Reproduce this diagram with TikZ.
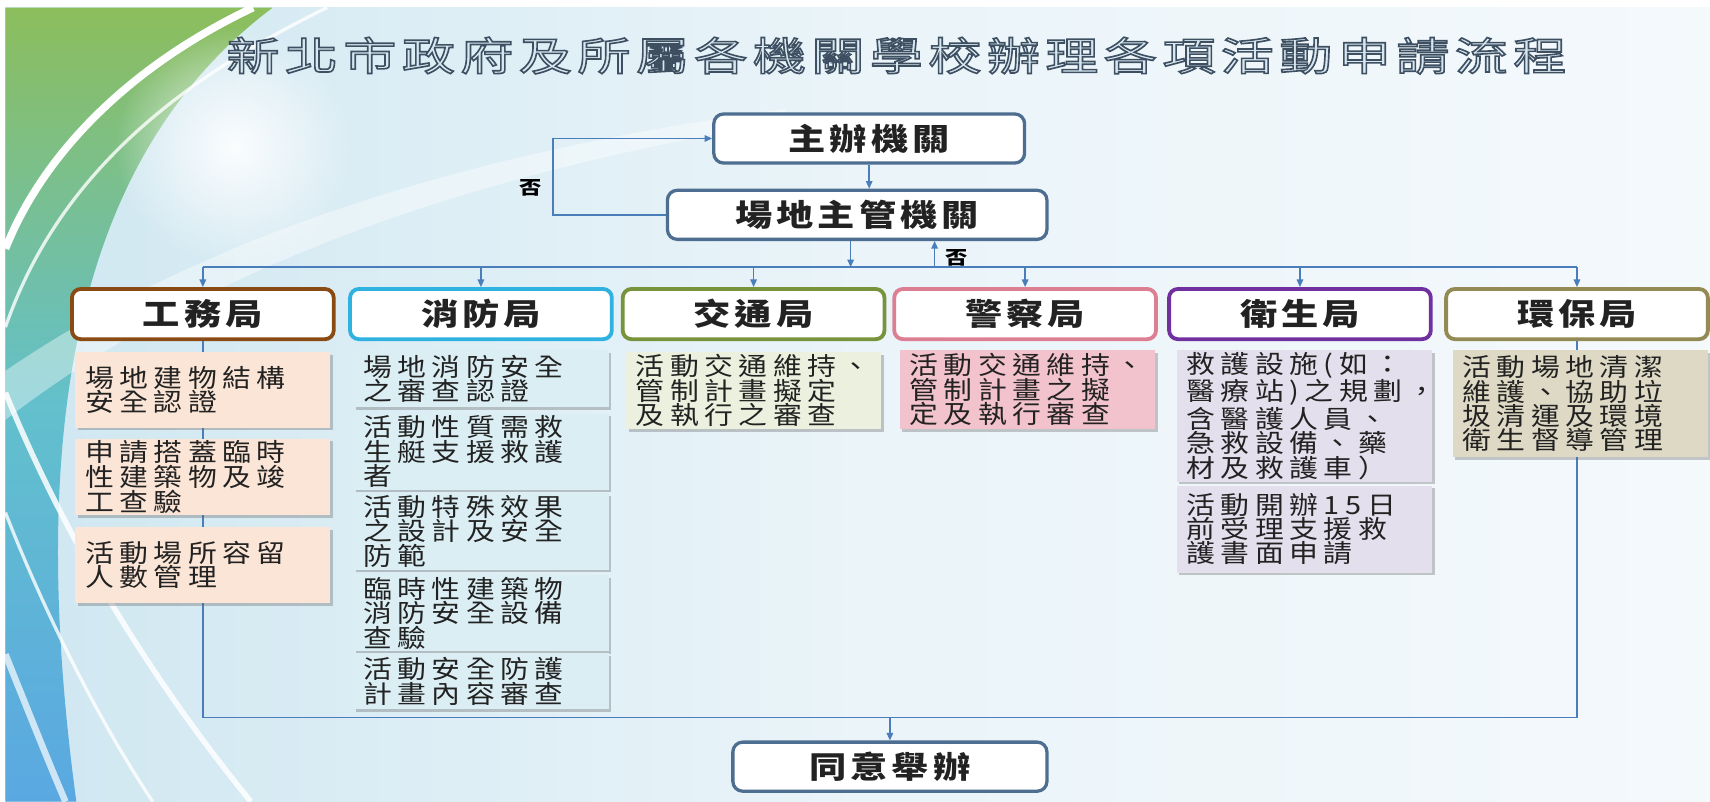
\documentclass[tikz,border=0pt]{standalone}
\usepackage{fontspec}
\usetikzlibrary{positioning,arrows.meta,shadows,fadings}
\setmainfont{Noto Sans CJK TC}
\newfontfamily\titlefont{Noto Sans CJK TC}[FakeStretch=1.35,LetterSpace=14]
\newfontfamily\headfont{Noto Sans CJK TC}[FakeStretch=1.22,LetterSpace=13]
\newfontfamily\itemfont{Noto Sans CJK TC}[FakeStretch=1.15,LetterSpace=22]
\newfontfamily\notefont{Noto Sans CJK TC}[FakeStretch=1.2]
\newcommand{\outlineon}{\special{pdf:literal direct 0.24 0.31 0.38 RG 1.5 w 2 Tr}}
\newcommand{\outlineoff}{\special{pdf:literal direct 0 Tr}}
\tikzfading[name=glowfade, inner color=transparent!0, outer color=transparent!100]
\definecolor{linkblue}{HTML}{4A7EBB}
\definecolor{bossblue}{HTML}{4D6E91}
\definecolor{pwbrown}{HTML}{8A4A14}
\definecolor{pwfill}{HTML}{FBE5D6}
\definecolor{firecyan}{HTML}{2FB2E0}
\definecolor{firefill}{HTML}{DBEEF4}
\definecolor{trafgreen}{HTML}{77933C}
\definecolor{traffill}{HTML}{EBF1DE}
\definecolor{polpink}{HTML}{DC7F93}
\definecolor{polfill}{HTML}{F2C2CD}
\definecolor{hlthpurple}{HTML}{7030A0}
\definecolor{hlthfill}{HTML}{E4DFEC}
\definecolor{envtan}{HTML}{948A54}
\definecolor{envfill}{HTML}{DDD9C4}
\definecolor{titlefill}{HTML}{D9E7F0}
\definecolor{bgleft}{HTML}{CFE7F1}
\definecolor{bgmid}{HTML}{EAF4F9}
\definecolor{bgright}{HTML}{F4F9FC}
\definecolor{swtop}{HTML}{8CBE5C}
\definecolor{swmid}{HTML}{63C0CC}
\definecolor{swbot}{HTML}{5AA8E2}
\definecolor{inktext}{HTML}{222222}

\begin{document}
\begin{tikzpicture}[x=1pt,y=-1pt]
  \tikzset{
  link/.style={
    draw=linkblue,
    line width=1.3pt
  },
  flow/.style={
    link,
    -{Triangle[length=7pt,width=6pt]}
  },
  boss/.style={
    rectangle,
    draw=bossblue,
    line width=3pt,
    rounded corners=9pt,
    fill=white,
    minimum height=45pt,
    text=inktext,
    font=\fontsize{28}{30}\headfont\bfseries
  },
  dept/.style={
    rectangle,
    draw=#1,
    line width=3.5pt,
    rounded corners=8pt,
    fill=white,
    minimum width=240pt,
    minimum height=46pt,
    text=inktext,
    font=\fontsize{28}{30}\headfont\bfseries
  },
  task/.style={
    rectangle,
    fill=#1,
    anchor=north,
    minimum width=234pt,
    text width=216pt,
    inner xsep=9pt,
    inner ysep=2pt,
    align=left,
    text=inktext,
    font=\fontsize{23}{21}\itemfont,
    drop shadow={shadow xshift=2.5pt,shadow yshift=-2.5pt,opacity=.35,fill=black!60}
  },
  note/.style={
    font=\fontsize{17}{17}\notefont\bfseries
  }
}
\useasboundingbox (0,0) rectangle (1568,735);

\shade[left color=bgleft, right color=bgright, middle color=bgmid] (5,7) rectangle (1568,735);
\shade[top color=swtop, bottom color=swbot, middle color=swmid]
  (5,7) -- (250,7) .. controls (100,120) and (15,330) .. (70,735) -- (5,735) -- cycle;
\fill[white, opacity=.4] (5,340) .. controls (180,220) and (420,140) .. (720,100)
  -- (720,112) .. controls (420,160) and (180,250) .. (5,385) -- cycle;
\fill[white, path fading=glowfade, opacity=.9] (215,135) circle (110);
\draw[white, line width=7pt] (232,7) .. controls (120,60) and (40,140) .. (5,228);
\draw[white, line width=3pt, opacity=.8] (300,7) .. controls (150,80) and (50,170) .. (5,300);
\draw[white, line width=5pt, opacity=.85] (5,360) .. controls (50,470) and (120,600) .. (230,735);
\draw[white, line width=3pt, opacity=.8] (5,470) .. controls (40,560) and (90,660) .. (140,735);
\draw[white, line width=6pt, opacity=.7] (5,600) .. controls (25,650) and (45,700) .. (60,735);

\node[font=\fontsize{36}{38}\titlefont, text=titlefill] at (822,51)
  (title) {\outlineon 新北市政府及所屬各機關學校辦理各項活動申請流程\outlineoff};

\node[boss, minimum width=285pt] at (797,127)
  (host) {主辦機關};
\node[boss, minimum width=348pt] at (786,197)
  (venue) {場地主管機關};
\node[boss, minimum width=288pt] at (816,703)
  (approve) {同意舉辦};

\node[dept=pwbrown] at (186,288)
  (works) {工務局};
\node[dept=firecyan] at (441,288)
  (fire) {消防局};
\node[dept=trafgreen] at (691,288)
  (traffic) {交通局};
\node[dept=polpink] at (940,288)
  (police) {警察局};
\node[dept=hlthpurple] at (1192,288)
  (health) {衛生局};
\node[dept=envtan] at (1446,288)
  (enviro) {環保局};

\coordinate (busup) at (186,245);
\coordinate (busupend) at (1446,245);
\coordinate (buslow) at (186,658);
\coordinate (buslowend) at (1446,658);
\coordinate (godown) at (780,245);
\coordinate (goback) at (857,245);
\coordinate (loopx) at (507,0);

  \draw[flow] (host.south) -- (host.south |- venue.north);
  \draw[flow] (venue.south -| godown) -- (godown);
  \draw[flow] (goback) -- (goback |- venue.south) node[note, right=6pt, pos=0.35] {否};
  \draw[flow] (venue.west) -- (venue.west -| loopx) -- node[note, left=6pt, pos=0.35] {否} (host.west -| loopx) -- (host.west);

  \draw[link] (busup) -- (busupend);
  \foreach \d in {works,fire,traffic,police,health,enviro}
    \draw[flow] (\d.north |- busup) -- (\d.north);

  \draw[link] (works.south) -- (works.south |- buslow) -- (buslowend) -- (enviro.south);
  \draw[flow] (approve.north |- buslow) -- (approve.north);

\node[task=pwfill, minimum height=69pt] at (186,323)
  (worksa) {場地建物結構\\安全認證};
\node[task=pwfill, minimum height=70pt] at (186,402)
  (worksb) {申請搭蓋臨時\\性建築物及竣\\工查驗};
\node[task=pwfill, minimum height=70pt] at (186,483)
  (worksc) {活動場所容留\\人數管理};

\node[task=firefill, minimum height=52pt] at (441,321)
  (firea) {場地消防安全\\之審查認證};
\node[task=firefill, minimum height=63pt] at (441,379)
  (fireb) {活動性質需救\\生艇支援救護\\者};
\node[task=firefill, minimum height=64pt] at (441,452)
  (firec) {活動特殊效果\\之設計及安全\\防範};
\node[task=firefill, minimum height=62pt] at (441,527)
  (fired) {臨時性建築物\\消防安全設備\\查驗};
\node[task=firefill, minimum height=51pt] at (441,599)
  (firee) {活動安全防護\\計畫內容審查};

\node[task=traffill, minimum height=70pt] at (691,323)
  (traffica) {活動交通維持、\\管制計畫擬定\\及執行之審查};

\node[task=polfill, minimum height=72pt] at (942,321)
  (policea) {活動交通維持、\\管制計畫之擬\\定及執行審查};

\node[task=hlthfill, minimum height=116pt] at (1196,321)
  (healtha) {救護設施(如：\\醫療站)之規劃，\\含醫護人員、\\急救設備、藥\\材及救護車）};
\node[task=hlthfill, minimum height=80pt] at (1196,445)
  (healthb) {活動開辦15日\\前受理支援救\\護書面申請};

\node[task=envfill, minimum height=98pt] at (1449,321)
  (enviroa) {活動場地清潔\\維護、協助垃\\圾清運及環境\\衛生督導管理};

\end{tikzpicture}
\end{document}
